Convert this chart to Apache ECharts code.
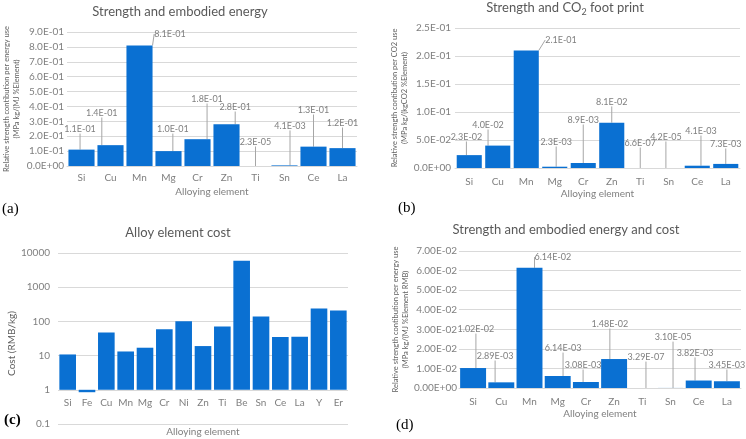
<!DOCTYPE html>
<html><head><meta charset="utf-8">
<script src="https://cdn.jsdelivr.net/npm/echarts@6/dist/echarts.min.js"></script>
<style>html,body{margin:0;padding:0;background:#fff}#c{width:746px;height:439px}</style>
</head><body><div id="c"></div>
<script>
// ---------------- data ----------------
const elementsAB = ['Si','Cu','Mn','Mg','Cr','Zn','Ti','Sn','Ce','La'];
const energyValues = [0.11, 0.14, 0.81, 0.10, 0.18, 0.28, 2.3e-5, 4.1e-3, 0.13, 0.12];
const co2Values = [2.3e-2, 4.0e-2, 2.1e-1, 2.3e-3, 8.9e-3, 8.1e-2, 6.6e-7, 4.2e-5, 4.1e-3, 7.3e-3];
const costElements = ['Si','Fe','Cu','Mn','Mg','Cr','Ni','Zn','Ti','Be','Sn','Ce','La','Y','Er'];
const costValues = [10.8, 0.85, 47, 13.2, 17, 59, 101, 19, 71, 5900, 140, 35, 35.5, 240, 210];
const energyCostValues = [1.02e-2, 2.89e-3, 6.14e-2, 6.14e-3, 3.08e-3, 1.48e-2, 3.29e-7, 3.10e-5, 3.82e-3, 3.45e-3];
const energyTicks = {min: 0, max: 0.9, step: 0.1};
const co2Ticks = {min: 0, max: 0.25, step: 0.05};
const costTicks = {min: 0.1, max: 10000};
const energyCostTicks = {min: 0, max: 0.07, step: 0.01};

// ---------------- layout / style ----------------
const FONT = 'Lato';
const BLUE = '#0a70d2';
const GRID_C = '#d9d9d9';
const TXT = '#7f7f7f';
const TITLE_C = '#595959';
const grids = [
  {left: 67, top: 32, width: 290, height: 134},
  {left: 455, top: 28, width: 285, height: 140},
  {left: 58, top: 253, width: 290, height: 171},
  {left: 459, top: 251, width: 282, height: 137}
];
// label anchor: [offset in categories from bar centre, axis value of label centre]
const spotsA = [[-0.05,0.248],[-0.3,0.356],[1.05,0.887],[0.15,0.248],[0.33,0.45],[0.3,0.396],[0,0.161],[0.19,0.269],[0,0.376],[0,0.289]];
const spotsB = [[-0.1,0.0554],[-0.34,0.0768],[1.22,0.2286],[0.05,0.0464],[0,0.0857],[0,0.118],[0,0.0446],[-0.1,0.0554],[0.13,0.066],[0,0.0429]];
const spotsD = [[0.1,0.0301],[-0.22,0.01635],[0.83,0.0669],[0.19,0.0204],[-0.1,0.01175],[-0.15,0.0327],[0.13,0.0158],[0.09,0.026],[-0.13,0.0179],[0,0.01175]];

function sci(v, d) {
  if (Math.abs(v) < 1e-15) return (0).toFixed(d) + 'E+00';
  let e = Math.floor(Math.log10(Math.abs(v)));
  let ms = (v / Math.pow(10, e)).toFixed(d);
  if (Math.abs(parseFloat(ms)) >= 10) { e += 1; ms = (v / Math.pow(10, e)).toFixed(d); }
  const ea = Math.abs(e);
  return ms + 'E' + (e < 0 ? '-' : '+') + (ea < 10 ? '0' : '') + ea;
}

const chart = echarts.init(document.getElementById('c'), null, {renderer: 'canvas'});

function makeLayout(k, spots, n, maxV) {
  return function (params) {
    const s = spots[params.dataIndex];
    const g = grids[k];
    const catW = g.width / n;
    const r = params.rect;
    const x = r.x + r.width / 2 + s[0] * catW;
    let y;
    try { y = chart.convertToPixel({yAxisIndex: k}, s[1]); } catch (e) { y = NaN; }
    if (!isFinite(y)) y = g.top + g.height * (1 - s[1] / maxV);
    return {x: x, y: y, align: 'center', verticalAlign: 'middle'};
  };
}

function xAxisCfg(k, data, extra) {
  return Object.assign({
    gridIndex: k, type: 'category', data: data,
    axisLine: {show: true, lineStyle: {color: GRID_C}}, axisTick: {show: false},
    axisLabel: {color: TXT, fontSize: 10, fontFamily: FONT, margin: 8, interval: 0},
    name: 'Alloying element', nameLocation: 'middle', nameGap: 21,
    nameTextStyle: {color: TXT, fontSize: 10, fontFamily: FONT}
  }, extra || {});
}
function yAxisCfg(k, t, d, name, gap, margin) {
  return {
    gridIndex: k, type: 'value', min: t.min, max: t.max, interval: t.step,
    axisLine: {show: false}, axisTick: {show: false},
    splitLine: {lineStyle: {color: GRID_C}},
    axisLabel: {color: TXT, fontSize: 10, fontFamily: FONT, margin: margin, formatter: v => sci(v, d)},
    name: name, nameLocation: 'middle', nameRotate: 90, nameGap: gap,
    nameTextStyle: {color: '#5e5e5e', fontSize: 7.5, lineHeight: 10, fontFamily: FONT}
  };
}
function barSeries(k, data, d, gap, spots) {
  const s = {
    type: 'bar', xAxisIndex: k, yAxisIndex: k, data: data,
    barCategoryGap: gap, itemStyle: {color: BLUE}, silent: true, animation: false
  };
  if (spots) {
    s.label = {show: true, position: 'top', color: TXT, fontSize: 9, fontFamily: FONT, formatter: p => sci(p.value, d)};
    s.labelLine = {show: true, lineStyle: {color: '#a6a6a6', width: 1}};
    s.labelLayout = makeLayout(k, spots, data.length, 1);
  }
  return s;
}

function titleText(x, y, text, rich) {
  return {type: 'text', x: x, y: y, silent: true,
    style: {text: text, fill: TITLE_C, font: '13px ' + FONT, align: 'center', verticalAlign: 'middle', rich: rich}};
}
function letter(x, y, text, bold) {
  return {type: 'text', x: x, y: y, silent: true,
    style: {text: text, fill: '#000', font: (bold ? 'bold ' : '') + '15px "Liberation Serif", "DejaVu Serif", serif', align: 'left', verticalAlign: 'middle'}};
}

const option = {
  animation: false,
  backgroundColor: '#fff',
  grid: grids.map(g => Object.assign({containLabel: false}, g)),
  xAxis: [
    xAxisCfg(0, elementsAB, {axisLabel: {color: TXT, fontSize: 10, fontFamily: FONT, margin: 7, interval: 0}}),
    xAxisCfg(1, elementsAB, {axisLabel: {color: TXT, fontSize: 10, fontFamily: FONT, margin: 9, interval: 0}}),
    xAxisCfg(2, costElements, {axisLine: {show: false, onZero: false}, offset: -34.2, nameGap: 37,
      axisLabel: {color: TXT, fontSize: 10, fontFamily: FONT, margin: 8, interval: 0}}),
    xAxisCfg(3, elementsAB, {axisLabel: {color: TXT, fontSize: 10, fontFamily: FONT, margin: 9, interval: 0}})
  ],
  yAxis: [
    yAxisCfg(0, energyTicks, 1, 'Relative strength contibution per energy use\n(MPa kg/(MJ %Element)', 45, 3),
    yAxisCfg(1, co2Ticks, 1, 'Relative strength contibution per CO2 use\n(MPa kg/(kgCO2 %Element)', 44, 4),
    {
      gridIndex: 2, type: 'log', logBase: 10, min: costTicks.min, max: costTicks.max,
      axisLine: {show: false}, axisTick: {show: false},
      splitLine: {lineStyle: {color: GRID_C}},
      axisLabel: {color: TXT, fontSize: 10, fontFamily: FONT, margin: 8, formatter: v => String(+v.toPrecision(6))},
      name: 'Cost (RMB/kg)', nameLocation: 'middle', nameRotate: 90, nameGap: 41,
      nameTextStyle: {color: '#5e5e5e', fontSize: 10, fontFamily: FONT, padding: [0, 10, 0, 0]}
    },
    yAxisCfg(3, energyCostTicks, 2, 'Relative strength contibution per energy use\n(MPa kg/(MJ %Element RMB)', 39, 2)
  ],
  series: [
    barSeries(0, energyValues, 1, '10%', spotsA),
    barSeries(1, co2Values, 1, '12%', spotsB),
    barSeries(2, costValues, 0, '14%', null),
    barSeries(3, energyCostValues, 2, '8%', spotsD)
  ],
  graphic: [
    titleText(180, 12, 'Strength and embodied energy'),
    titleText(565, 8, 'Strength and CO{sub|2} foot print', {sub: {fontSize: 9, fontFamily: FONT, fill: TITLE_C, padding: [8, 0, 0, 0]}}),
    titleText(178, 233, 'Alloy element cost'),
    titleText(566, 230, 'Strength and embodied energy and cost'),
    letter(2, 209, '(a)'),
    letter(398, 208, '(b)'),
    letter(4, 420, '(c)', true),
    letter(396, 425, '(d)')
  ]
};
chart.setOption(option);
</script>
</body></html>
